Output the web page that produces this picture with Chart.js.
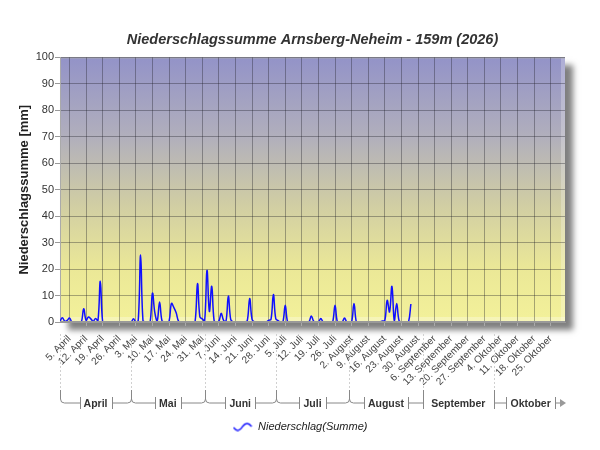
<!DOCTYPE html>
<html lang="de">
<head>
<meta charset="utf-8">
<title>Niederschlagssumme Arnsberg-Neheim</title>
<script src="https://cdn.jsdelivr.net/npm/chart.js@4.4.1/dist/chart.umd.min.js"></script>
<style>
  html, body { margin: 0; padding: 0; background: #fff; }
  #wrap { width: 600px; height: 450px; }
</style>
</head>
<body>
<div id="wrap"><canvas id="chart" width="600" height="450"></canvas></div>
<script>
// Tageswerte in mm, Index 0 = 1. April
const niederschlag = [
    0.3, 1.6, 0.3, 0.6, 1.5, 0, 0, 0, 0, 0,
    5.0, 0.6, 1.9, 1.2, 0.3, 1.3, 0.4, 15.4, 0, 0,
    0, 0, 0, 0, 0, 0, 0, 0, 0, 0,
    0, 1.2, 0, 0.6, 25.3, 0.5, 0, 0, 0, 10.9,
    3.5, 0.4, 7.6, 0.5, 0, 0, 0.3, 7.0, 5.5, 3.5,
    0.3, 0, 0, 0, 0, 0, 0, 0.3, 14.5, 1.9,
    1.2, 0.3, 19.5, 4.0, 13.5, 0.5, 0, 0.3, 3.3, 0.6,
    0.2, 9.8, 1.0, 0, 0, 0, 0, 0, 0, 0.5,
    8.9, 1.0, 0, 0, 0, 0, 0, 0, 0.6, 1.0,
    10.4, 1.3, 0.5, 0, 0, 6.3, 0, 0, 0, 0,
    0, 0, 0, 0, 0, 0, 2.3, 0.3, 0, 0,
    1.3, 0, 0, 0, 0, 0, 6.3, 0, 0, 0,
    1.5, 0, 0, 0, 7.0, 0, 0, 0, 0, 0,
    0, 0, 0, 0, 0, 0, 0.4, 0.5, 8.2, 3.8,
    13.5, 0.5, 7.0, 0.5, 0, 0, 0, 0, 6.8
];

const wochenLabels = [
    '5. April', '12. April', '19. April', '26. April',
    '3. Mai', '10. Mai', '17. Mai', '24. Mai', '31. Mai',
    '7. Juni', '14. Juni', '21. Juni', '28. Juni',
    '5. Juli', '12. Juli', '19. Juli', '26. Juli',
    '2. August', '9. August', '16. August', '23. August', '30. August',
    '6. September', '13. September', '20. September', '27. September',
    '4. Oktober', '11. Oktober', '18. Oktober', '25. Oktober'
];
const ersterSonntag = 4;   // 5. April

const monate = ['April', 'Mai', 'Juni', 'Juli', 'August', 'September', 'Oktober'];
const monatsBeginn = [0, 30, 61, 91, 122, 153, 183, 214];
const letzterTag = 213;    // 31. Oktober

const schrift = "'Liberation Sans', Arial, sans-serif";
const monatsFont = { family: schrift, size: 10.5, weight: 'bold' };

Chart.defaults.font.family = schrift;

// kleines Wellen-Symbol für die Legende
const welle = document.createElement('canvas');
welle.width = 20;
welle.height = 10;
const wc = welle.getContext('2d');
wc.strokeStyle = '#1010ff';
wc.lineWidth = 1.4;
wc.beginPath();
wc.moveTo(1, 6);
wc.bezierCurveTo(4, 10, 7, 10, 10, 5);
wc.bezierCurveTo(13, 1, 16, 1, 19, 5);
wc.stroke();

const flaeche = {
    id: 'flaeche',
    afterLayout(chart) {
        // Legende über die ganze Breite zentrieren
        const lg = chart.legend;
        lg.left = 0;
        lg.right = chart.width;
        lg.width = chart.width;
    },
    beforeDraw(chart) {
        const { ctx, chartArea: a } = chart;
        ctx.save();
        ctx.shadowColor = 'rgba(0,0,0,0.5)';
        ctx.shadowBlur = 6;
        ctx.shadowOffsetX = 8;
        ctx.shadowOffsetY = 8;
        ctx.fillStyle = '#ddd';
        ctx.fillRect(a.left, a.top, a.width, a.height);
        ctx.restore();

        const g = ctx.createLinearGradient(0, a.top, 0, a.bottom);
        g.addColorStop(0, '#9393c8');
        g.addColorStop(0.3, '#b1afbc');
        g.addColorStop(0.55, '#d0cda4');
        g.addColorStop(0.8, '#ebe897');
        g.addColorStop(1, '#f3f19a');
        ctx.fillStyle = g;
        ctx.fillRect(a.left, a.top, a.width, a.height);

        ctx.fillStyle = 'rgba(255,255,255,0.25)';
        ctx.fillRect(a.right - 4, a.top, 4, a.height);
        ctx.fillStyle = 'rgba(255,255,255,0.3)';
        ctx.fillRect(a.left, a.bottom - 5, a.width, 5);

        ctx.strokeStyle = '#aaa';
        ctx.lineWidth = 1;
        ctx.beginPath();
        ctx.moveTo(a.left, a.top + 0.5);
        ctx.lineTo(a.right, a.top + 0.5);
        ctx.stroke();
    },
    afterDatasetsDraw(chart) {
        const { ctx, chartArea: a } = chart;
        ctx.save();
        ctx.fillStyle = '#999';
        ctx.fillRect(a.left, a.bottom - 1, a.width, 2);
        ctx.restore();
    }
};

const klammern = {
    id: 'klammern',
    afterDraw(chart) {
        const { ctx } = chart;
        const sx = chart.scales.x, s2 = chart.scales.x2;
        const yLinie = s2.top + 11;
        const yOben = s2.top - 2;
        const yStart = chart.chartArea.bottom + 12;
        const px = t => Math.round(Math.min(sx.getPixelForValue(t), sx.right)) + 0.5;

        const strich = (x1, y1, x2, y2) => {
            ctx.beginPath();
            ctx.moveTo(x1, y1);
            ctx.lineTo(x2, y2);
            ctx.stroke();
        };

        ctx.save();
        ctx.lineWidth = 1;
        ctx.strokeStyle = '#d0d0d0';
        ctx.setLineDash([2, 2]);
        monatsBeginn.slice(0, -1).forEach(t => strich(px(t), yStart, px(t), yOben));
        ctx.setLineDash([]);

        ctx.font = `${monatsFont.weight} ${monatsFont.size}px ${schrift}`;
        const teile = monate.map((m, i) => {
            const a = px(monatsBeginn[i]);
            const b = px(monatsBeginn[i + 1]);
            const c = s2.getPixelForValue((monatsBeginn[i] + monatsBeginn[i + 1]) / 2);
            const w = ctx.measureText(m).width / 2 + 4;
            let l = Math.round(c - w) + 0.5, r = Math.round(c + w) + 0.5;
            if (l - a < 8) l = a;
            if (i < monate.length - 1 && b - r < 8) r = b;
            return { a, b, l, r };
        });

        ctx.strokeStyle = '#888';
        teile.forEach((t, i) => {
            const links = i > 0 ? teile[i - 1].r : null;
            const x = t.a;
            if (t.l === x || links === x) {
                strich(x, yOben, x, yLinie + 6);
                if (t.l > x) strich(x, yLinie, t.l, yLinie);
                if (links !== null && links < x) strich(links, yLinie, x, yLinie);
            } else {
                ctx.beginPath();
                ctx.moveTo(x, yOben);
                ctx.lineTo(x, yLinie - 4);
                ctx.quadraticCurveTo(x, yLinie, x + 4, yLinie);
                ctx.lineTo(t.l, yLinie);
                if (links !== null) {
                    ctx.moveTo(x, yLinie - 4);
                    ctx.quadraticCurveTo(x, yLinie, x - 4, yLinie);
                    ctx.lineTo(links, yLinie);
                }
                ctx.stroke();
            }
            if (t.l !== x) strich(t.l, yLinie - 6, t.l, yLinie + 6);
            strich(t.r, yLinie - 6, t.r, yLinie + 6);
        });

        const letzter = teile[teile.length - 1];
        const ende = sx.right + 1;
        strich(letzter.r, yLinie, ende - 5, yLinie);
        ctx.fillStyle = '#999';
        ctx.beginPath();
        ctx.moveTo(ende - 6, yLinie - 4);
        ctx.lineTo(ende, yLinie);
        ctx.lineTo(ende - 6, yLinie + 4);
        ctx.closePath();
        ctx.fill();
        ctx.restore();
    }
};

const gitter = 'rgba(30,30,40,0.36)';

new Chart(document.getElementById('chart'), {
    type: 'line',
    data: {
        datasets: [{
            label: 'Niederschlag(Summe)',
            data: niederschlag.map((v, i) => ({ x: i, y: v })),
            borderColor: '#1010ff',
            borderWidth: 1.5,
            pointRadius: 0,
            tension: 0.4,
            fill: false
        }]
    },
    options: {
        responsive: false,
        animation: false,
        events: [],
        layout: { padding: { left: 0, right: 35, top: 0, bottom: 8 } },
        plugins: {
            title: {
                display: true,
                fullSize: false,
                text: 'Niederschlagssumme Arnsberg-Neheim - 159m (2026)',
                color: '#333',
                font: { size: 14.5, weight: 'bold', style: 'italic' },
                padding: { top: 31, bottom: 9 }
            },
            legend: {
                position: 'bottom',
                fullSize: false,
                labels: {
                    usePointStyle: true,
                    pointStyle: welle,
                    pointStyleWidth: 20,
                    color: '#222',
                    font: { size: 11, style: 'italic' },
                    padding: 7
                }
            },
            tooltip: { enabled: false }
        },
        scales: {
            x: {
                type: 'linear',
                min: 0,
                max: letzterTag,
                afterBuildTicks: s => {
                    s.ticks = wochenLabels.map((_, i) => ({ value: ersterSonntag + 7 * i }));
                },
                afterFit: s => { s.height = 70; },
                ticks: {
                    callback: (v, i) => wochenLabels[i],
                    autoSkip: false,
                    minRotation: 45,
                    maxRotation: 45,
                    color: '#444',
                    font: { size: 10 },
                    padding: 7
                },
                grid: { color: gitter, tickColor: '#aaa', tickLength: 4 },
                border: { color: '#999' }
            },
            x2: {
                type: 'linear',
                position: 'bottom',
                min: 0,
                max: letzterTag,
                afterBuildTicks: s => {
                    s.ticks = monate.map((_, i) => ({ value: (monatsBeginn[i] + monatsBeginn[i + 1]) / 2 }));
                },
                afterFit: s => { s.height = 22; },
                ticks: {
                    callback: (v, i) => monate[i],
                    autoSkip: false,
                    maxRotation: 0,
                    color: '#333',
                    font: monatsFont,
                    padding: 6
                },
                grid: { display: false, drawTicks: false },
                border: { display: false }
            },
            y: {
                min: 0,
                max: 100,
                afterFit: s => { s.width = 60; },
                ticks: { stepSize: 10, color: '#333', font: { size: 11 }, padding: 1 },
                grid: { color: gitter, tickColor: '#999', tickLength: 5 },
                border: { color: '#aaa' },
                title: {
                    display: true,
                    text: 'Niederschlagssumme [mm]',
                    color: '#222',
                    font: { size: 13, weight: 'bold' },
                    padding: { top: 17, bottom: 0 }
                }
            }
        }
    },
    plugins: [flaeche, klammern]
});
</script>
</body>
</html>
